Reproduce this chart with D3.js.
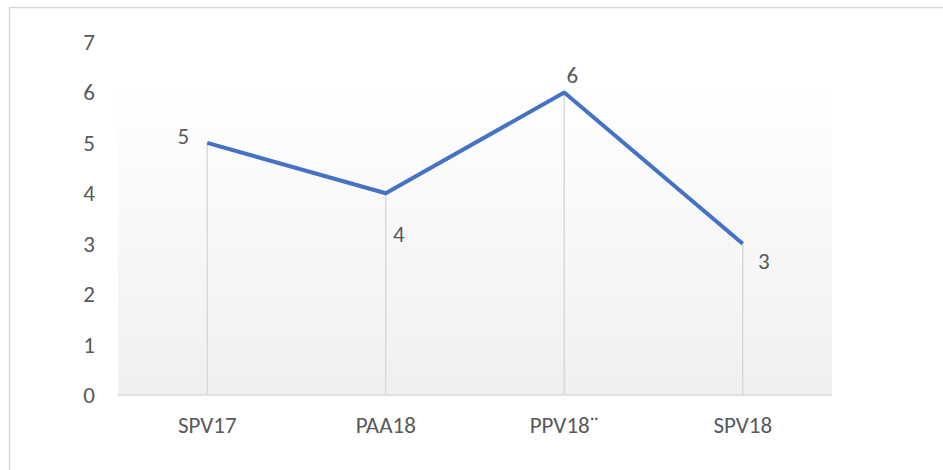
<!DOCTYPE html>
<html>
<head>
<meta charset="utf-8">
<script src="https://cdn.jsdelivr.net/npm/d3@7"></script>
<style>
  body { margin: 0; background: #fff; }
  text { font-family: Carlito, Lato, "Open Sans", sans-serif; fill: #595959; }
</style>
</head>
<body>
<div id="chart"></div>
<script>
// data
var categories = ["SPV17", "PAA18", "PPV18¨", "SPV18"];
var values = [5, 4, 6, 3];
var yTicks = [0, 1, 2, 3, 4, 5, 6, 7];

// where each data label sits relative to its point
var labelSpots = ["left", "below", "above", "right"];

var width = 943, height = 470;
var margin = { top: 42, right: 111, bottom: 75, left: 118 };
var plot_w = width - margin.left - margin.right;
var plot_h = height - margin.top - margin.bottom;
var fontSize = 23;

var svg = d3.select("#chart").append("svg")
  .attr("width", width)
  .attr("height", height);

// outer chart frame (runs off the right/bottom edge)
svg.append("rect")
  .attr("x", 9.5).attr("y", 7.5)
  .attr("width", 980).attr("height", 500)
  .attr("fill", "none")
  .attr("stroke", "#d9d9d9")
  .attr("stroke-width", 1.5);

var defs = svg.append("defs");
var grad = defs.append("linearGradient")
  .attr("id", "bg").attr("x1", 0).attr("y1", 0).attr("x2", 0).attr("y2", 1);
grad.append("stop").attr("offset", "0%").attr("stop-color", "#ffffff");
grad.append("stop").attr("offset", "100%").attr("stop-color", "#f0f0f0");

var g = svg.append("g").attr("transform", "translate(" + margin.left + "," + margin.top + ")");

var x = d3.scaleBand().domain(categories).range([0, plot_w]);
var y = d3.scaleLinear().domain([0, 7]).range([plot_h, 0]);

// plot area background
g.append("rect")
  .attr("x", 0).attr("y", y(6) - 5)
  .attr("width", plot_w).attr("height", plot_h - y(6) + 5)
  .attr("fill", "url(#bg)");

// drop lines
g.selectAll(".drop")
  .data(values)
  .enter().append("line")
  .attr("class", "drop")
  .attr("x1", function(d, i) { return x(categories[i]) + x.bandwidth() / 2; })
  .attr("x2", function(d, i) { return x(categories[i]) + x.bandwidth() / 2; })
  .attr("y1", function(d) { return y(d); })
  .attr("y2", y(0))
  .attr("stroke", "#d9d9d9")
  .attr("stroke-width", 1.5);

// x axis line
g.append("line")
  .attr("x1", 0).attr("x2", plot_w)
  .attr("y1", y(0)).attr("y2", y(0))
  .attr("stroke", "#d9d9d9")
  .attr("stroke-width", 1.5);

// y tick labels
g.selectAll(".ytick")
  .data(yTicks)
  .enter().append("text")
  .attr("class", "ytick")
  .attr("x", -23)
  .attr("y", function(d) { return y(d); })
  .attr("dy", "0.35em")
  .attr("text-anchor", "end")
  .attr("font-size", fontSize)
  .text(function(d) { return d; });

// x tick labels
g.selectAll(".xtick")
  .data(categories)
  .enter().append("text")
  .attr("class", "xtick")
  .attr("x", function(d) { return x(d) + x.bandwidth() / 2; })
  .attr("y", plot_h + 30)
  .attr("dy", "0.35em")
  .attr("text-anchor", "middle")
  .attr("font-size", fontSize)
  .text(function(d) { return d; });

// the line
var line = d3.line()
  .x(function(d, i) { return x(categories[i]) + x.bandwidth() / 2; })
  .y(function(d) { return y(d); });

g.append("path")
  .datum(values)
  .attr("d", line)
  .attr("fill", "none")
  .attr("stroke", "#4472c4")
  .attr("stroke-width", 4)
  .attr("stroke-linejoin", "round");

// data labels
var offsets = {
  left: [-24, -7],
  below: [13, 41],
  above: [8, -17],
  right: [21, 17]
};

g.selectAll(".dlabel")
  .data(values)
  .enter().append("text")
  .attr("class", "dlabel")
  .attr("x", function(d, i) { return x(categories[i]) + x.bandwidth() / 2 + offsets[labelSpots[i]][0]; })
  .attr("y", function(d, i) { return y(d) + offsets[labelSpots[i]][1]; })
  .attr("dy", "0.35em")
  .attr("text-anchor", "middle")
  .attr("font-size", fontSize)
  .text(function(d) { return d; });
</script>
</body>
</html>
